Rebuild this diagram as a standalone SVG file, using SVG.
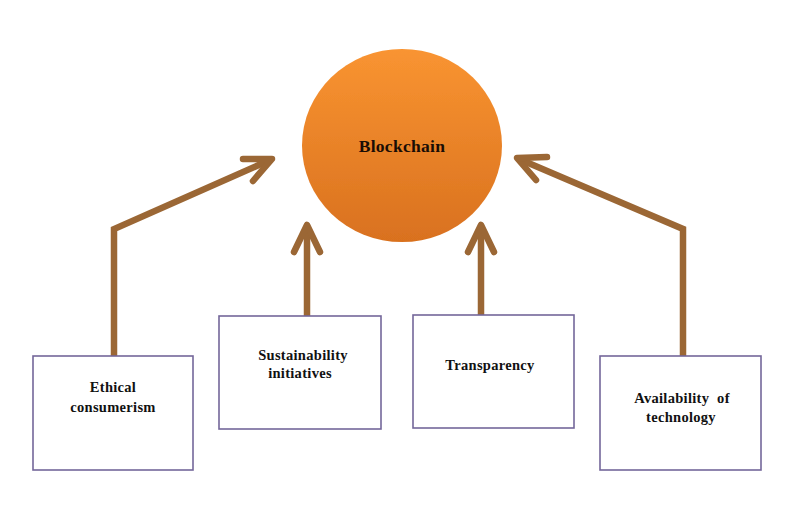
<svg xmlns="http://www.w3.org/2000/svg" width="810" height="521" viewBox="0 0 810 521">
<defs>
<linearGradient id="orb" x1="0" y1="0" x2="0" y2="1">
<stop offset="0" stop-color="#f99431"/>
<stop offset="1" stop-color="#d9711f"/>
</linearGradient>
<filter id="soft" x="-10%" y="-10%" width="120%" height="120%">
<feGaussianBlur stdDeviation="0.7"/>
</filter>
</defs>
<style>
.box{fill:#ffffff;stroke:#74679a;stroke-width:1.6}
.arrow{fill:none;stroke:#9b6735;stroke-width:6.5;stroke-linecap:round;stroke-linejoin:miter}
.head{fill:none;stroke:#9b6735;stroke-width:6.5;stroke-linecap:round;stroke-linejoin:round}
.lbl{font-family:"Liberation Serif","Times New Roman",serif;font-weight:bold;font-size:14.5px;letter-spacing:0.3px;fill:#111111;text-anchor:middle}
.big{font-size:17.5px;fill:#1a0d05}
</style>
<rect width="810" height="521" fill="#ffffff"/>
<g id="connectors">
<path class="arrow" d="M114,356 V229 L270,160"/>
<path class="head" d="M243,159 L272,159 L253,181"/>
<path class="arrow" d="M307,316 V228"/>
<path class="head" d="M294,252 L307,225 L320,252"/>
<path class="arrow" d="M481,315 V228"/>
<path class="head" d="M468,252 L481,225 L494,252"/>
<path class="arrow" d="M683,356 V229 L519,159"/>
<path class="head" d="M547,157 L517,158 L536,180"/>
</g>
<g id="blockchain">
<ellipse cx="402" cy="145.5" rx="100" ry="96.5" fill="url(#orb)" filter="url(#soft)"/>
<text class="lbl big" x="402" y="152">Blockchain</text>
</g>
<g id="ethical">
<rect class="box" x="33" y="356" width="160" height="114"/>
<text class="lbl" x="113" y="392">Ethical</text>
<text class="lbl" x="113" y="412">consumerism</text>
</g>
<g id="sustainability">
<rect class="box" x="219" y="316" width="162" height="113"/>
<text class="lbl" x="303" y="360">Sustainability</text>
<text class="lbl" x="300" y="378">initiatives</text>
</g>
<g id="transparency">
<rect class="box" x="413" y="315" width="161" height="113"/>
<text class="lbl" x="490" y="370">Transparency</text>
</g>
<g id="availability">
<rect class="box" x="600" y="356" width="161" height="114"/>
<text class="lbl" x="682" y="403">Availability&#160; of</text>
<text class="lbl" x="681" y="422">technology</text>
</g>
</svg>
